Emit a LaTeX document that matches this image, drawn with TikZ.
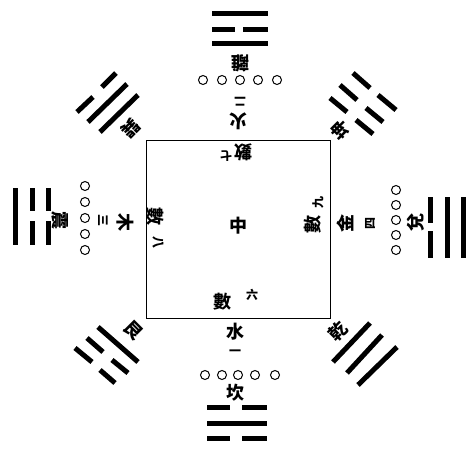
\documentclass[tikz,border=0pt]{standalone}
\usepackage{fontspec}
\newfontfamily\cjk{Noto Sans CJK TC}

\begin{document}
\begin{tikzpicture}[x=1pt,y=-1pt,
  yao/.style={line width=5pt},
  ring/.style={line width=1pt},
  zi/.style={font=\cjk\bfseries\fontsize{18}{18}\selectfont,inner sep=0pt},
  xiao/.style={font=\cjk\bfseries\fontsize{12}{12}\selectfont,inner sep=0pt}]
\useasboundingbox (0,0) rectangle (472,450);
\draw [line width=0.8pt] (146,140) rectangle (330,318);
\node [zi] (zhong) at (238,226) {中};
% south: li
\draw [yao] (212,13) -- (268,13);
\draw [yao] (212,29) -- (235,29);
\draw [yao] (243,29) -- (268,29);
\draw [yao] (212,43) -- (268,43);
\node [zi, rotate=180] (li) at (240,63) {離};
\foreach \x in {203,222,240,258,277} \draw [ring] (\x,80) circle (4.5);
\node [xiao, rotate=180] (er) at (240,102) {二};
\node [zi, rotate=180] (huo) at (238,121) {火};
\node [zi, rotate=180] (shu7) at (243,152) {數};
\node [xiao, rotate=180] (qi) at (226,156) {七};
% north: kan
\node [zi] (shu6) at (222,302) {數};
\node [xiao] (liu) at (252,295) {六};
\node [zi] (shui) at (235,332) {水};
\node [xiao] (yi) at (235,353) {一};
\foreach \x in {205,222,238,255,275} \draw [ring] (\x,375) circle (4.5);
\node [zi] (kan) at (235,393) {坎};
\draw [yao] (207,407) -- (230,407);
\draw [yao] (242,407) -- (267,407);
\draw [yao] (207,423) -- (267,423);
\draw [yao] (207,438) -- (230,438);
\draw [yao] (242,438) -- (267,438);
% east: zhen
\draw [yao] (15,188) -- (15,245);
\draw [yao] (32,188) -- (32,211);
\draw [yao] (32,221) -- (32,245);
\draw [yao] (48,188) -- (48,211);
\draw [yao] (48,221) -- (48,245);
\node [zi, rotate=-90] (zhen) at (60,220) {震};
\foreach \y in {186,202,218,234,250} \draw [ring] (85,\y) circle (4.5);
\node [xiao, rotate=-90] (san) at (103,220) {三};
\node [zi, rotate=-90] (mu) at (125,222) {木};
\node [zi, rotate=-90] (shu8) at (155,216) {數};
\node [xiao, rotate=-90] (ba) at (158,242) {八};
% west: dui
\node [zi, rotate=90] (shu9) at (313,224) {數};
\node [xiao, rotate=90] (jiu) at (318,202) {九};
\node [zi, rotate=90] (jin) at (345,223) {金};
\node [xiao, rotate=90] (si) at (370,223) {四};
\foreach \y in {190,205,220,235,250} \draw [ring] (396,\y) circle (4.5);
\node [zi, rotate=90] (dui) at (416,222) {兌};
\draw [yao] (430,197) -- (430,223);
\draw [yao] (430,231) -- (430,258);
\draw [yao] (447,197) -- (447,258);
\draw [yao] (463,197) -- (463,258);
% corners
\draw [yao] (138,95) -- (100,132);
\draw [yao] (127,84) -- (88,122);
\draw [yao] (116,73) -- (102,87);
\draw [yao] (93,97) -- (77,112);
\node [zi, rotate=-135] (xun) at (131,128) {巽};
\draw [yao] (353,73) -- (370,88);
\draw [yao] (378,95) -- (396,110);
\draw [yao] (340,85) -- (357,100);
\draw [yao] (366,108) -- (383,122);
\draw [yao] (330,98) -- (347,112);
\draw [yao] (356,120) -- (373,134);
\node [zi, rotate=135] (kun) at (340,130) {坤};
\draw [yao] (98,327) -- (138,362);
\draw [yao] (87,338) -- (103,352);
\draw [yao] (112,360) -- (128,373);
\draw [yao] (75,348) -- (92,362);
\draw [yao] (100,370) -- (115,383);
\node [zi, rotate=-45] (gen) at (133,330) {艮};
\draw [yao] (370,323) -- (333,362);
\draw [yao] (382,335) -- (347,373);
\draw [yao] (397,347) -- (358,385);
\node [zi, rotate=45] (qian) at (338,331) {乾};
\end{tikzpicture}
\end{document}
